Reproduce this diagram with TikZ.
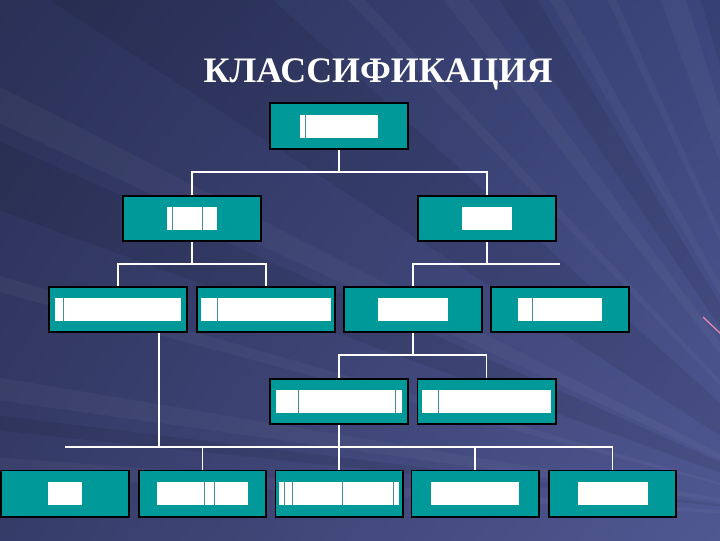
\documentclass[tikz,border=0pt]{standalone}
\usepackage{fontspec}
\setmainfont{Liberation Serif}
\usetikzlibrary{calc,shadings}
\definecolor{boxteal}{RGB}{0,153,153}
\definecolor{bgul}{RGB}{42,48,86}
\definecolor{bgur}{RGB}{60,70,124}
\definecolor{bgll}{RGB}{54,60,104}
\definecolor{bglr}{RGB}{80,88,146}
\definecolor{gapline}{RGB}{70,140,150}
\tikzset{
  box/.style={draw=black, line width=1.4pt, fill=boxteal, minimum width=34.5mm, minimum height=11.25mm, inner sep=0pt},
  lowbox/.style={box, minimum width=31.75mm, minimum height=11.5mm},
  blank/.style={fill=white, inner sep=0pt, minimum height=5.75mm},
  link/.style={white, line width=1pt},
  gap/.style={gapline, line width=0.5pt}
}

\begin{document}
\begin{tikzpicture}[x=0.025cm, y=-0.025cm]
    \useasboundingbox (0,0) rectangle (720,540);
    % background
    \shade[upper left=bgul, upper right=bgur, lower left=bgll, lower right=bglr] (0,0) rectangle (720,540);
    \begin{scope}
    \clip (0,0) rectangle (720,540);
    \foreach \a/\w in {183/1.2,188/1.5,195/1,205/2,226/1,232/1.8,240/1.2,245/0.8,250/2.5,257/1}
        \fill[white, opacity=0.035] (850,520) -- +(\a:1400) -- +(\a+\w:1400) -- cycle;
    \foreach \a/\w in {186/1,200/4,213/9,236/3,254/2}
        \fill[black, opacity=0.08] (850,520) -- +(\a:1400) -- +(\a+\w:1400) -- cycle;
    \end{scope}
    \draw[line width=1pt, pink!70!violet] (703,317)--(722,335);
    % title
    \node (title) [anchor=base, text=white, font=\fontsize{25.5}{30}\selectfont\bfseries] at (378,82) {КЛАССИФИКАЦИЯ};
    % boxes
    \node (root) [box, minimum height=11.5mm] at (339,126) {};
    \node (a)  [box] at (192,218.5) {};
    \node (b)  [box] at (487,218.5) {};
    \node (a1) [box] at (118,309.5) {};
    \node (a2) [box] at (266,309.5) {};
    \node (b1) [box] at (413,309.5) {};
    \node (b2) [box] at (560,309.5) {};
    \node (c1) [box] at (339,401.5) {};
    \node (c2) [box] at (486.5,401.5) {};
    \node (d1) [lowbox] at (65,493.5) {};
    \node (d2) [lowbox] at (202.5,493.5) {};
    \node (d3) [lowbox] at (339,493.5) {};
    \node (d4) [lowbox] at (475,493.5) {};
    \node (d5) [lowbox] at (612.5,493.5) {};
    % white fields inside the boxes
    \node (rootT) [blank, minimum width=19.5mm] at (root) {};
    \node (aT)  [blank, minimum width=12.5mm] at (a) {};
    \node (bT)  [blank, minimum width=12.5mm] at (b) {};
    \node (a1T) [blank, minimum width=31.5mm] at (a1) {};
    \node (a2T) [blank, minimum width=32.25mm] at (a2) {};
    \node (b1T) [blank, minimum width=17.5mm] at (b1) {};
    \node (b2T) [blank, minimum width=21mm] at (b2) {};
    \node (c1T) [blank, minimum width=31.5mm] at (c1) {};
    \node (c2T) [blank, minimum width=32.25mm] at (c2) {};
    \node (d1T) [blank, minimum width=8.25mm] at (d1) {};
    \node (d2T) [blank, minimum width=22.75mm] at (d2) {};
    \node (d3T) [blank, minimum width=29.75mm] at (d3) {};
    \node (d4T) [blank, minimum width=22mm] at (d4) {};
    \node (d5T) [blank, minimum width=17.5mm] at (d5) {};
    \foreach \n/\x in {rootT/305,aT/172,aT/202,a1T/63,a2T/217,b2T/532,c1T/298,c1T/395,c2T/438,d2T/204,d2T/214,d3T/284,d3T/292,d3T/342,d3T/393}
        \draw[gap] (\n.north -| \x,0) -- (\n.south -| \x,0);
    % connectors
    \draw[link] (root.south) -- (root.south |- 0,172);
    \draw[link] (a.north) |- (b.north |- 0,172) -- (b.north);
    \draw[link] (a.south) -- (a.south |- 0,264);
    \draw[link] (a1.north) |- (a2.north |- 0,264) -- (a2.north);
    \draw[link] (b.south) -- (b.south |- 0,264);
    \coordinate (bend) at (b2.north |- 0,264);
    \draw[link] (b1.north) |- (bend);
    \draw[link] (b1.south) -- (b1.south |- 0,355);
    \draw[link] (c1.north) |- (c2.north |- 0,355) -- (c2.north);
    \draw[link] (a1.south -| 159,0) -- (159,447);
    \draw[link] (c1.south) -- (d3.north);
    \coordinate (dend) at (d1.north |- 0,447);
    \draw[link] (dend) -| (d5.north);
    \draw[link] (d2.north |- 0,447) -- (d2.north);
    \draw[link] (d4.north |- 0,447) -- (d4.north);
\end{tikzpicture}
\end{document}
